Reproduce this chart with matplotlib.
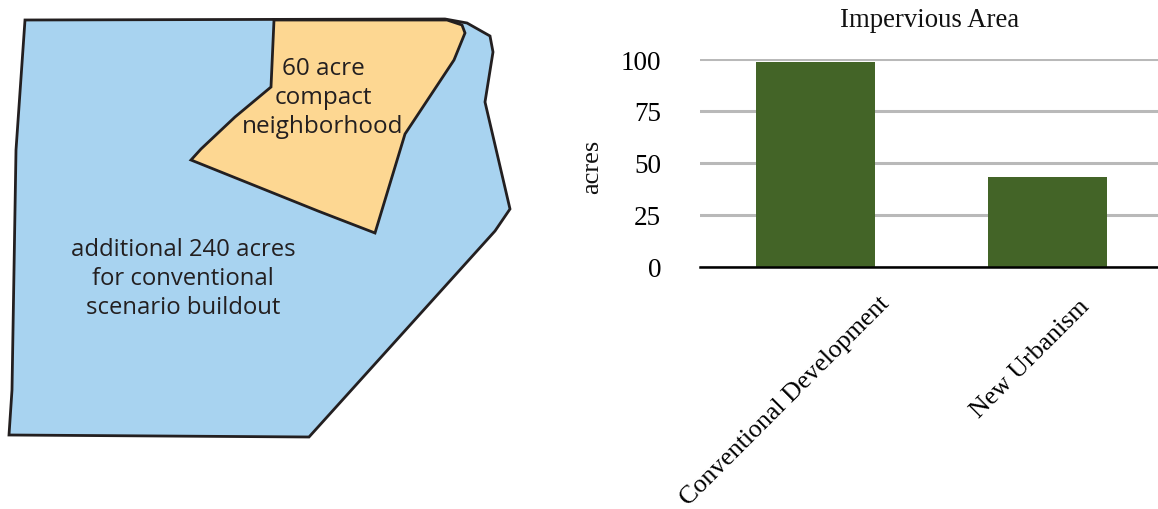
"""
Site area map next to a bar chart of impervious area
"""

import matplotlib
matplotlib.use('Agg')
import matplotlib.pyplot as plt
from matplotlib.patches import Polygon
from matplotlib.transforms import ScaledTranslation

W, H = 1158, 510

# Map outlines, in map units
buildout_outline = [(25, 20), (445, 19), (467, 23), (490, 36), (493, 52), (485, 102),
                    (510, 209), (495, 231), (309, 437), (9, 435), (12, 390), (16, 150)]
compact_outline = [(274, 20), (447, 20), (462, 25), (465, 33), (454, 60), (405, 134),
                   (375, 233), (318, 211), (191, 160), (201, 149), (235, 117), (271, 87)]

# Bar chart values
categories = ['Conventional Development', 'New Urbanism']
acres = [98.7, 43.3]
y_ticks = [0, 25, 50, 75, 100]

SERIF = 'Liberation Serif'
SANS = 'Open Sans'
DARK = '#231f20'

fig = plt.figure(figsize=(W / 100, H / 100), dpi=100)

# Map panel
map_ax = fig.add_axes([0, 0, 1, 1])
map_ax.set_xlim(0, W)
map_ax.set_ylim(H - 1, -1)
map_ax.axis('off')
map_ax.add_patch(Polygon(buildout_outline, closed=True, facecolor='#a8d3f0',
                         edgecolor=DARK, linewidth=2, joinstyle='miter'))
map_ax.add_patch(Polygon(compact_outline, closed=True, facecolor='#fdd792',
                         edgecolor=DARK, linewidth=2, joinstyle='miter'))
map_ax.text(323, 97, '60 acre\ncompact\nneighborhood', ha='center', va='center',
            family=SANS, fontsize=17.5, color=DARK, linespacing=1.26)
map_ax.text(183, 278, 'additional 240 acres\nfor conventional\nscenario buildout',
            ha='center', va='center', family=SANS, fontsize=17.2, color=DARK, linespacing=1.26)

# Bar chart panel
bar_ax = fig.add_axes([700 / W, (H - 267.5) / H, 458 / W, 207.5 / H])
x = list(range(len(categories)))
bar_ax.bar(x, acres, width=0.513, color='#436427', zorder=3)
bar_ax.set_xlim(-0.498, 1.476)
bar_ax.set_ylim(0, 100)
bar_ax.set_yticks(y_ticks)
bar_ax.set_yticklabels([str(t) for t in y_ticks], family=SERIF, fontsize=19.5)
bar_ax.set_xticks(x)
bar_ax.set_xticklabels(categories, family=SERIF, fontsize=18.6, rotation=45,
                       ha='right', rotation_mode='anchor')
bar_ax.tick_params(axis='y', length=0, pad=28)
bar_ax.tick_params(axis='x', length=0, pad=14)
bar_ax.grid(axis='y', color='#b9b9b9', linewidth=2.2, zorder=1)
bar_ax.set_axisbelow(True)
for name in ['top', 'left', 'right']:
    bar_ax.spines[name].set_visible(False)
bar_ax.spines['bottom'].set_linewidth(1.8)
bar_ax.spines['bottom'].set_zorder(4)

# Slide the slanted labels along the axis, offsets in pixels
label_shift = [(63, -6), (31, -9)]
for label, (dx, dy) in zip(bar_ax.get_xticklabels(), label_shift):
    label.set_transform(label.get_transform() +
                        ScaledTranslation(dx / 100, dy / 100, fig.dpi_scale_trans))

fig.text(930 / W, 1 - 20.5 / H, 'Impervious Area', ha='center', va='center',
         family=SERIF, fontsize=19.3, color='#111111')
fig.text(592 / W, 1 - 167 / H, 'acres', ha='center', va='center', rotation=90,
         family=SERIF, fontsize=19, color='#111111')

fig.savefig('out.png', dpi=100)
